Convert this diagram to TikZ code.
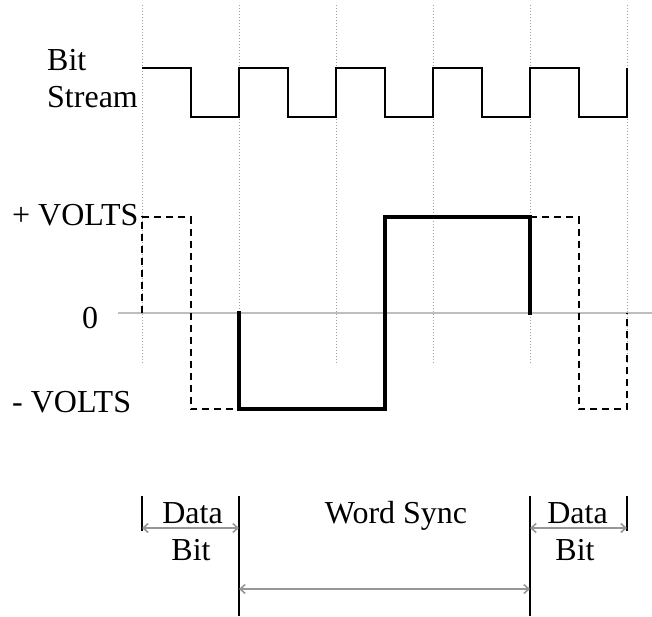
\documentclass[tikz,border=0pt]{standalone}
\usepackage{fontspec}
\setmainfont{Liberation Serif}
\definecolor{gridgray}{RGB}{160, 160, 160}
\definecolor{axisgray}{RGB}{190, 190, 190}
\definecolor{spangray}{RGB}{150, 150, 150}
\usetikzlibrary{arrows.meta, positioning}
\tikzset{
    every node/.style={inner sep=0pt, font=\fontsize{32}{37}\selectfont},
    gridline/.style={gridgray, line width=1pt, dash pattern=on 1pt off 2pt},
    zeroline/.style={axisgray, line width=1.6pt},
    bitwave/.style={line width=2pt},
    syncwave/.style={line width=4pt, line cap=rect},
    datawave/.style={line width=2pt, dash pattern=on 7pt off 5pt},
    markbar/.style={line width=2pt},
    span/.style={spangray, line width=1.6pt,
        {Straight Barb[length=5pt, width=9pt]}-{Straight Barb[length=5pt, width=9pt]}},
}

\begin{document}
\begin{tikzpicture}[x=1pt, y=-1pt]
    \useasboundingbox (0, 0) rectangle (652, 616);
    % grid of bit cells
    \foreach \xpos in {142, 239, 336, 433, 530, 627}
        \draw[gridline] (\xpos, 5) -- (\xpos, 363);
    \draw[zeroline] (118, 313) -- (652, 313);

    % clock
    \node[anchor=base west] (bitlbl) at (47, 70) {Bit};
    \node[anchor=base west] (streamlbl) at (47, 107) {Stream};
    \draw[bitwave] (142, 68) \foreach \i in {0, ..., 4}
        { -- ++(48.5, 0) -- ++(0, 48.5) -- ++(48.5, 0) -- ++(0, -48.5) };

    % levels
    \node[anchor=base west] (plusv) at (12, 225) {+ VOLTS};
    \node[anchor=base west] (zerov) at (82, 328) {0};
    \node[anchor=base west] (minusv) at (12, 412) {- VOLTS};

    \draw[datawave] (142, 313) -- (142, 217) -- (190.5, 217) -- (190.5, 409) -- (239, 409);
    \draw[syncwave] (239, 313) -- (239, 409) -- (384.5, 409) -- (384.5, 217) -- (530, 217) -- (530, 313);
    \draw[datawave] (530, 217) -- (578.5, 217) -- (578.5, 409) -- (627, 409) -- (627, 313);

    % spans
    \coordinate (lefttop) at (142, 496);
    \coordinate (synctop) at (239, 496);
    \coordinate (syncend) at (530, 496);
    \coordinate (righttop) at (627, 496);
    \draw[markbar] (lefttop) -- ++(0, 35);
    \draw[markbar] (righttop) -- ++(0, 35);
    \draw[markbar] (synctop) -- ++(0, 120);
    \draw[markbar] (syncend) -- ++(0, 120);
    \draw[span] ([yshift=-32pt] lefttop) -- ([yshift=-32pt] synctop);
    \draw[span] ([yshift=-32pt] syncend) -- ([yshift=-32pt] righttop);
    \draw[span] ([yshift=-93pt] synctop) -- ([yshift=-93pt] syncend);

    \node[anchor=base] (datal) at (192.5, 523) {Data};
    \node[anchor=base] (bitl) at (191, 560) {Bit};
    \node[anchor=base] (wordsync) at (396, 523) {Word Sync};
    \node[anchor=base] (datar) at (577.5, 523) {Data};
    \node[anchor=base] (bitr) at (575, 560) {Bit};
\end{tikzpicture}
\end{document}
